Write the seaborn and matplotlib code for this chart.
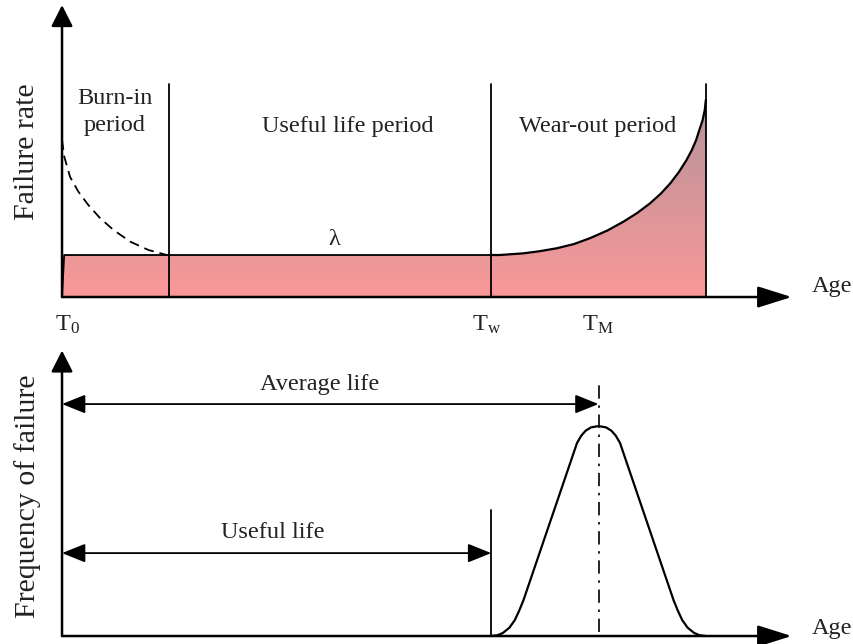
import numpy as np
import matplotlib
matplotlib.use('Agg')
import matplotlib.pyplot as plt
from matplotlib.colors import LinearSegmentedColormap
from matplotlib.patches import Polygon
import seaborn as sns

# Age markers (age units): T0, end of burn-in, Tw, TM, end of life
t0, t_burn, t_w, t_m, t_end = 0.0, 1.0, 4.0, 5.0, 6.0
lam = 1.0                      # constant failure rate in useful life
period_top = 5.07              # height of the period separator lines

# burn-in failure rate (dashed)
burn_age = [0.0, 0.021, 0.075, 0.152, 0.245, 0.354, 0.478, 0.634, 0.805, 0.976]
burn_rate = [3.74, 3.34, 2.86, 2.51, 2.19, 1.88, 1.60, 1.32, 1.12, 1.0]

# wear-out failure rate
wear_age = [4.0, 4.08, 4.30, 4.45, 4.61, 4.77, 4.92, 5.08, 5.23, 5.36, 5.48,
            5.58, 5.67, 5.75, 5.82, 5.87, 5.91, 5.94, 5.97, 5.99, 6.0]
wear_rate = [1.0, 1.0, 1.04, 1.09, 1.16, 1.26, 1.40, 1.58, 1.79, 2.00, 2.23,
             2.46, 2.71, 2.98, 3.26, 3.50, 3.74, 3.98, 4.21, 4.45, 4.69]

# frequency of failure (bell)
bell_age = [4.0, 4.06, 4.11, 4.17, 4.22, 4.26, 4.30, 4.80, 4.84, 4.88, 4.93, 5.0,
            5.07, 5.12, 5.16, 5.20, 5.70, 5.74, 5.78, 5.83, 5.89, 5.94, 6.0]
bell_freq = [0.0, 0.004, 0.015, 0.04, 0.076, 0.12, 0.17, 0.92, 0.955, 0.978, 0.994, 1.0,
             0.994, 0.978, 0.955, 0.92, 0.17, 0.12, 0.076, 0.04, 0.015, 0.004, 0.0]

avg_life_y = 1.105
useful_life_y = 0.395
useful_line_top = 0.6

sns.set_theme(style='white')
plt.rcParams['font.family'] = ['Liberation Serif', 'DejaVu Serif']
plt.rcParams['mathtext.fontset'] = 'custom'
plt.rcParams['mathtext.rm'] = 'Liberation Serif'
plt.rcParams['mathtext.it'] = 'Liberation Serif:italic'

fig = plt.figure(figsize=(8.54, 6.44), dpi=100)
ax1 = fig.add_axes([0, 0.472, 1, 0.528])
ax2 = fig.add_axes([0, 0, 1, 0.472])
txt = '#222222'
fs = 17.5

def axis_arrow(ax, start, tip, hl):
    ax.annotate('', xy=tip, xytext=start,
                arrowprops=dict(arrowstyle=f'-|>,head_length={hl},head_width=0.33',
                                mutation_scale=20, lw=1.8, color='black',
                                shrinkA=0, shrinkB=0))

def dim_arrow(ax, x0, x1, y):
    ax.annotate('', xy=(x1, y), xytext=(x0, y),
                arrowprops=dict(arrowstyle='<|-|>,head_length=0.72,head_width=0.29',
                                mutation_scale=20, lw=1.3, color='black',
                                shrinkA=0, shrinkB=0))

# ---------- top: failure rate (bathtub) ----------
fill_x = [t0, 0.02] + wear_age + [t_end]
fill_y = [0.0, lam] + wear_rate + [0.0]
poly = Polygon(np.column_stack([fill_x, fill_y]), closed=True,
               facecolor='none', edgecolor='none')
ax1.add_patch(poly)
grad = np.linspace(0, 1, 256).reshape(-1, 1)
cmap = LinearSegmentedColormap.from_list('fill', ['#FA9898', '#B4939A'])
im = ax1.imshow(grad, extent=[t0, t_end, 0, 4.7], origin='lower',
                aspect='auto', cmap=cmap, zorder=1)
im.set_clip_path(poly)

sns.lineplot(x=[t0, 0.02, wear_age[1]], y=[0, lam, lam], ax=ax1,
             color='black', lw=1.3, sort=False, estimator=None)
sns.lineplot(x=wear_age, y=wear_rate, ax=ax1, color='black', lw=1.6,
             sort=False, estimator=None)
sns.lineplot(x=burn_age, y=burn_rate, ax=ax1, color='black', lw=1.3,
             sort=False, estimator=None, linestyle=(0, (5.5, 3.3)))
for xv in [t_burn, t_w, t_end]:
    ax1.plot([xv, xv], [0, period_top], color='black', lw=1.3, zorder=3)

axis_arrow(ax1, (t0, 0), (t0, 6.95), 0.65)
axis_arrow(ax1, (t0, 0), (6.80, 0), 1.05)

ax1.text(-0.326, 3.45, 'Failure rate', rotation=90, ha='center', va='center',
         fontsize=21.5, color=txt)
ax1.text(0.49, 4.4, 'Burn-in\nperiod', ha='center', va='center', fontsize=fs,
         color=txt, linespacing=1.35)
ax1.text(2.665, 4.05, 'Useful life period', ha='center', va='center',
         fontsize=fs, color=txt)
ax1.text(4.99, 4.05, 'Wear-out period', ha='center', va='center',
         fontsize=fs, color=txt)
ax1.text(2.54, 1.36, 'λ', ha='center', va='center', fontsize=fs, color=txt)
ax1.text(t0 + 0.05, -0.67, r'$\mathrm{T}_{0}$', ha='center', va='center',
         fontsize=fs, color=txt)
ax1.text(t_w - 0.04, -0.67, r'$\mathrm{T}_{\mathrm{w}}$', ha='center',
         va='center', fontsize=fs, color=txt)
ax1.text(t_m - 0.01, -0.67, r'$\mathrm{T}_{\mathrm{M}}$', ha='center',
         va='center', fontsize=fs, color=txt)
ax1.text(7.18, 0.26, 'Age', ha='center', va='center', fontsize=fs, color=txt)

ax1.set_xlim(-0.578, 7.381)
ax1.set_ylim(-1.024, 7.071)
ax1.axis('off')

# ---------- bottom: frequency of failure ----------
sns.lineplot(x=bell_age, y=bell_freq, ax=ax2, color='black', lw=1.6,
             sort=False, estimator=None)
ax2.plot([t_m, t_m], [0.02, 1.21], color='black', lw=1.2,
         linestyle=(0, (8, 4, 1.5, 4)))
ax2.plot([t_w, t_w], [0, useful_line_top], color='black', lw=1.3)

axis_arrow(ax2, (t0, 0), (t0, 1.36), 0.65)
axis_arrow(ax2, (t0, 0), (6.80, 0), 1.05)
dim_arrow(ax2, t0, t_m, avg_life_y)
dim_arrow(ax2, t0, t_w, useful_life_y)

ax2.text(-0.326, 0.667, 'Frequency of failure', rotation=90, ha='center',
         va='center', fontsize=21.5, color=txt)
ax2.text(2.4, 1.2, 'Average life', ha='center', va='center', fontsize=fs,
         color=txt)
ax2.text(1.96, 0.495, 'Useful life', ha='center', va='center', fontsize=fs,
         color=txt)
ax2.text(7.18, 0.038, 'Age', ha='center', va='center', fontsize=fs, color=txt)

ax2.set_xlim(-0.578, 7.381)
ax2.set_ylim(-0.038, 1.410)
ax2.axis('off')

fig.savefig('out.png', dpi=100)
